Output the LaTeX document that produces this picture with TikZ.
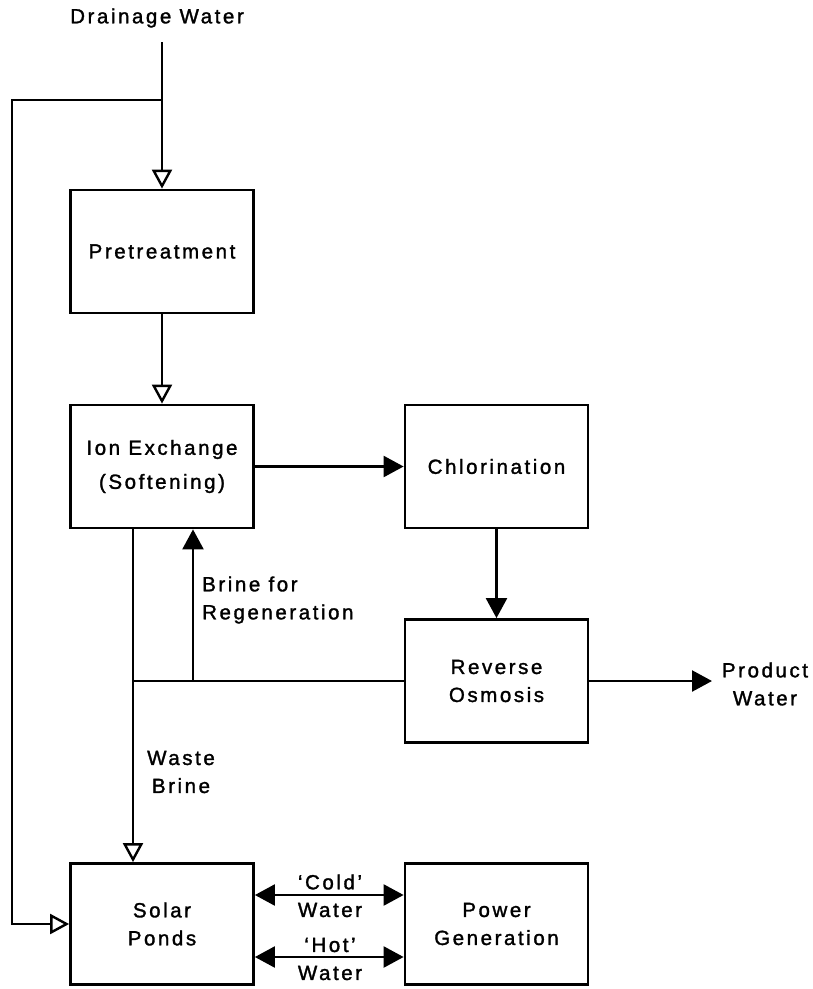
\documentclass[tikz,border=0pt]{standalone}
\usepackage{fontspec}
\setmainfont{Liberation Sans}[LetterSpace=12.5,FakeBold=1.5]
\usetikzlibrary{arrows.meta}
\begin{document}
\begin{tikzpicture}[x=1pt,y=-1pt,
  box/.style={draw,line width=2.8pt,minimum width=183pt,minimum height=123pt,align=center,inner sep=0pt},
  lbl/.style={align=center,inner sep=0pt},
  conn/.style={line width=2.4pt},
  tipf/.tip={Triangle[length=20pt,width=21pt]},
  fa/.style={-tipf},
  oa/.style={-{Triangle[open,length=19pt,width=20pt,fill=white]}},
  font=\fontsize{20.5}{28}\selectfont]
\useasboundingbox (0,0) rectangle (813,989);
\node[lbl] (dw) at (157,18) {Drainage Water};
\coordinate (top) at (162,42);
\coordinate (split) at (162,100);
\coordinate (lft) at (12,100);
\node[box] (pre) at (162,251.5) {Pretreatment};
\node[box] (ion) at (162,466.5) {Ion Exchange\\[6pt](Softening)};
\node[box] (chl) at (496.5,466.5) {Chlorination};
\node[box] (ro) at (496.5,681) {Reverse\\Osmosis};
\node[box,minimum height=121pt] (sp) at (162,924) {Solar\\Ponds};
\node[box,minimum height=121pt] (pg) at (496.5,924) {Power\\Generation};
\node[lbl] (pw) at (765,684) {Product\\Water};
\coordinate (pend) at (712,681);
\node[lbl,align=left,anchor=west] (bfr) at (202,600) {Brine for\\Regeneration};
\node[lbl] (wb) at (181,772) {Waste\\Brine};
\node[lbl] (cl) at (330,882) {‘Cold’};
\node[lbl] (cw) at (330,910) {Water};
\node[lbl] (hl) at (330,945) {‘Hot’};
\node[lbl] (hw) at (330,973) {Water};
% connectors
\draw[conn] (top) -- (split);
\draw[conn,oa] (split) -- (pre.north);
\draw[conn,oa] (split) -- (lft) |- (sp.west);
\draw[conn,oa] (pre) -- (ion);
\draw[conn,fa] (ion) -- (chl);
\draw[conn,fa] (chl) -- (ro);
\draw[conn,fa] (ro.east) -- (pend);
\draw[conn,oa] ([xshift=-29pt]ion.south) -- ([xshift=-29pt]sp.north);
\draw[conn] (ro.west) -- ([xshift=-29pt]ion.south |- ro.west);
\draw[conn,fa] ([xshift=31pt]ion.south |- ro.west) -- ([xshift=31pt]ion.south);
\draw[conn,tipf-tipf] ([yshift=29pt]sp.east) -- ([yshift=29pt]sp.east -| pg.west);
\draw[conn,tipf-tipf] ([yshift=-33pt]sp.east) -- ([yshift=-33pt]sp.east -| pg.west);
\end{tikzpicture}
\end{document}
